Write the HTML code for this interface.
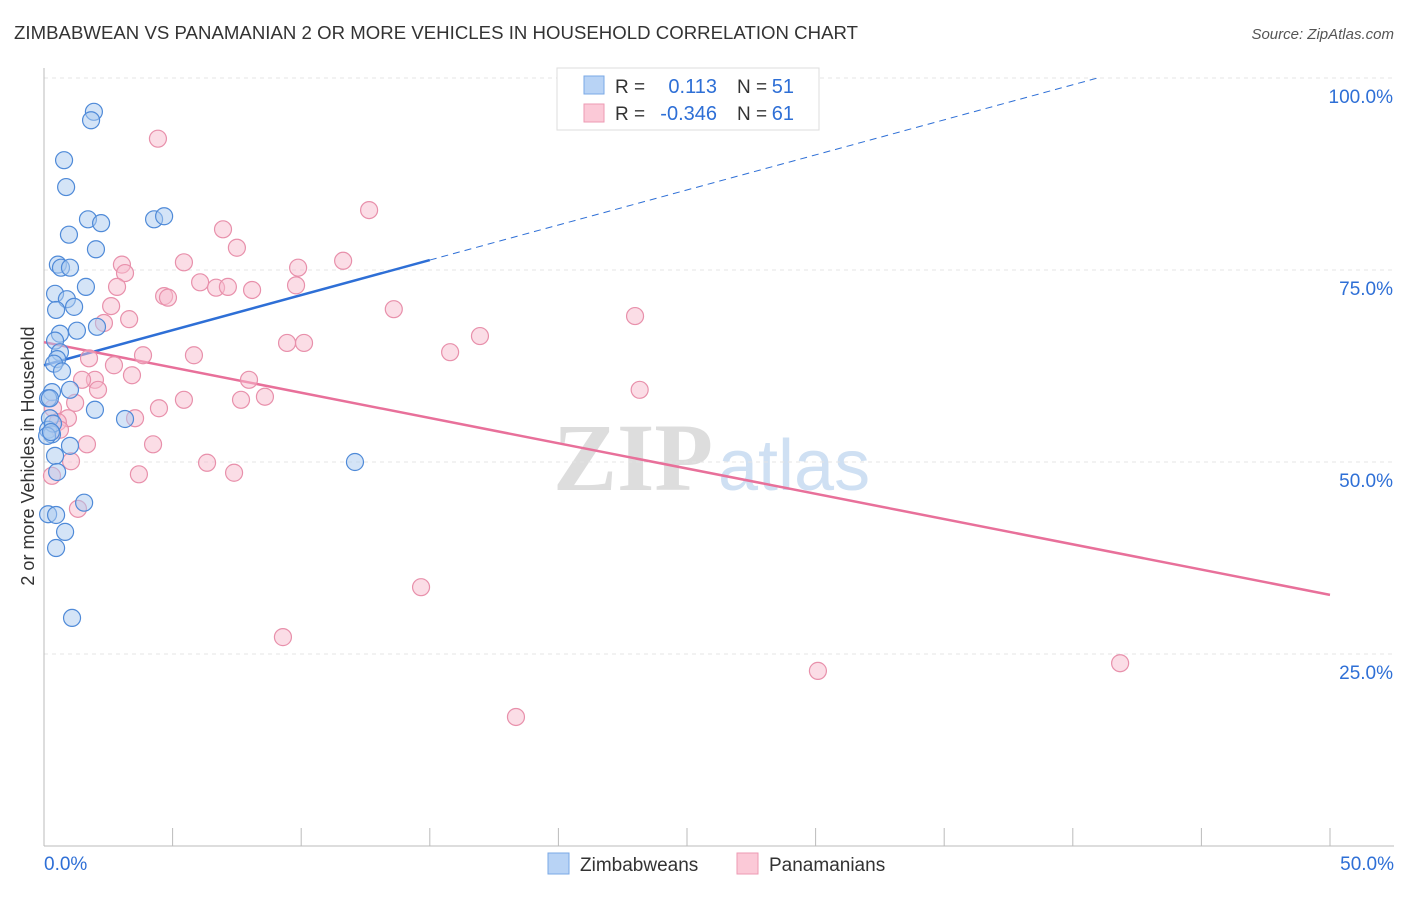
<!DOCTYPE html>
<html><head><meta charset="utf-8"><style>
body{margin:0;background:#fff;font-family:"Liberation Sans",sans-serif}
</style></head><body>
<svg id="chart" width="1406" height="892" xmlns="http://www.w3.org/2000/svg" font-family="Liberation Sans, sans-serif">
<text x="14" y="39" font-size="18.6" fill="#333" textLength="844">ZIMBABWEAN VS PANAMANIAN 2 OR MORE VEHICLES IN HOUSEHOLD CORRELATION CHART</text>
<text x="1394" y="39" font-size="15" fill="#555" text-anchor="end" font-style="italic">Source: ZipAtlas.com</text>
<g><text x="553" y="490" font-size="96" fill="#ddd" font-family="Liberation Serif, serif" font-weight="bold">ZIP</text><text x="718" y="490" font-size="72" fill="#cfe0f3">atlas</text></g>
<text transform="translate(34,456) rotate(-90)" font-size="18" fill="#333" text-anchor="middle">2 or more Vehicles in Household</text>
<g id="grid"></g><g id="axes"></g><g id="trend"></g><g id="pts"></g>
<g>
<rect x="557" y="68" width="262" height="62" fill="#fff" stroke="#ddd"/>
<rect x="584" y="76" width="20" height="18" fill="#b8d3f5" stroke="#7aa8e6"/>
<rect x="584" y="104" width="20" height="18" fill="#fbc9d7" stroke="#ee9ab3"/>
<text x="615" y="93" font-size="19" fill="#333">R =</text>
<text x="717" y="93" font-size="20" fill="#2e6fd6" text-anchor="end">0.113</text>
<text x="737" y="93" font-size="19" fill="#333">N =</text>
<text x="794" y="93" font-size="20" fill="#2e6fd6" text-anchor="end">51</text>
<text x="615" y="120" font-size="19" fill="#333">R =</text>
<text x="717" y="120" font-size="20" fill="#2e6fd6" text-anchor="end">-0.346</text>
<text x="737" y="120" font-size="19" fill="#333">N =</text>
<text x="794" y="120" font-size="20" fill="#2e6fd6" text-anchor="end">61</text>
</g>
<g>
<rect x="548" y="853" width="21" height="21" fill="#b8d3f5" stroke="#7aa8e6"/>
<text x="580" y="871" font-size="19" fill="#333">Zimbabweans</text>
<rect x="737" y="853" width="21" height="21" fill="#fbc9d7" stroke="#ee9ab3"/>
<text x="769" y="871" font-size="19" fill="#333">Panamanians</text>
</g>
</svg>
<script>
const xTicks=[0,5,10,15,20,25,30,35,40,45,50];
const yTicks=[25,50,75,100];
const yTickLabels=["25.0%","50.0%","75.0%","100.0%"];
const xEndLabels=["0.0%","50.0%"];
const blueX=[1.94,1.83,0.78,0.86,1.71,2.22,4.28,4.67,0.97,2.02,0.54,0.66,1.01,0.43,1.63,0.89,1.17,0.47,2.06,1.28,0.62,0.43,0.62,0.51,0.39,0.70,1.01,0.31,0.16,1.98,3.15,0.23,0.16,0.31,1.01,0.43,12.09,0.51,1.56,0.16,0.47,0.82,0.47,1.09,0.23,0.35,0.12,0.27];
const blueY=[95.6,94.5,89.3,85.8,81.6,81.1,81.6,82.0,79.6,77.7,75.7,75.3,75.3,71.9,72.8,71.2,70.2,69.8,67.6,67.1,66.7,65.8,64.3,63.4,62.8,61.8,59.4,59.1,58.3,56.8,55.6,55.7,54.2,53.6,52.1,50.8,50.0,48.7,44.7,43.2,43.1,40.9,38.8,29.7,58.3,55.0,53.4,53.9];
const pinkX=[4.43,12.64,6.96,7.50,3.03,3.15,5.44,9.88,11.63,2.84,6.07,6.69,7.15,8.09,9.80,4.67,4.82,13.60,22.98,2.61,3.31,2.33,16.95,9.45,10.11,15.79,3.85,5.83,1.75,2.72,3.42,1.98,7.97,1.48,2.10,23.16,5.44,7.66,8.59,1.21,4.47,0.35,0.93,3.54,0.54,4.24,1.67,1.05,6.34,3.69,7.39,0.31,1.32,14.66,9.29,30.09,41.84,18.35,0.62];
const pinkY=[92.1,82.8,80.3,77.9,75.7,74.6,76.0,75.3,76.2,72.8,73.4,72.7,72.8,72.4,73.0,71.6,71.4,69.9,69.0,70.3,68.6,68.1,66.4,65.5,65.5,64.3,63.9,63.9,63.5,62.6,61.3,60.7,60.7,60.7,59.4,59.4,58.1,58.1,58.5,57.7,57.0,57.0,55.7,55.7,55.2,52.3,52.3,50.1,49.9,48.4,48.6,48.2,43.9,33.7,27.2,22.8,23.8,16.8,54.2];
const blueTrend=[62.6,0.913];const pinkTrend=[65.6,-0.658];
const X=v=>44+v*(1286/50), Y=v=>846-v*7.68;
const NS="http://www.w3.org/2000/svg";
function mk(t,a,p){const e=document.createElementNS(NS,t);for(const k in a)e.setAttribute(k,a[k]);p.appendChild(e);return e;}
const grid=document.getElementById('grid'),axes=document.getElementById('axes'),tr=document.getElementById('trend'),pts=document.getElementById('pts');
yTicks.forEach((t,i)=>{const l=mk('line',{x1:44,x2:1394,y1:Y(t),y2:Y(t),stroke:'#e4e4e4','stroke-dasharray':'4,4'},grid);


const tx=mk('text',{x:1393,y:Y(t)+25,'font-size':19,fill:'#2e6fd6','text-anchor':'end'},axes);tx.textContent=yTickLabels[i];

});
mk('line',{x1:44,x2:1394,y1:846,y2:846,stroke:'#bbb'},axes);
mk('line',{x1:44,x2:44,y1:68,y2:846,stroke:'#bbb'},axes);
xTicks.forEach(t=>{const l=mk('line',{x1:X(t),x2:X(t),y1:828,y2:846,stroke:'#bbb'},axes);

});
const a=mk('text',{x:44,y:870,'font-size':19,fill:'#2e6fd6'},axes);a.textContent=xEndLabels[0];


const b=mk('text',{x:1394,y:870,'font-size':19,fill:'#2e6fd6','text-anchor':'end'},axes);b.textContent=xEndLabels[1];


function dot(x,y,f,s){const c=mk('circle',{cx:X(x),cy:Y(y),r:8.5,fill:f,stroke:s,'stroke-width':1.2,'fill-opacity':0.5},pts);return c;}
pinkX.forEach((x,i)=>{const c=dot(x,pinkY[i],'#f8bccd','#e890ab');

});
blueX.forEach((x,i)=>{const c=dot(x,blueY[i],'#a9c9f0','#4f8ad8');

});
const bEnd=15,bDash=(100-blueTrend[0])/blueTrend[1];
const l1=mk('line',{x1:X(0),y1:Y(blueTrend[0]),x2:X(bEnd),y2:Y(blueTrend[0]+blueTrend[1]*bEnd),stroke:'#2e6fd6','stroke-width':2.5},tr);


const l2=mk('line',{x1:X(bEnd),y1:Y(blueTrend[0]+blueTrend[1]*bEnd),x2:X(bDash),y2:Y(100),stroke:'#2e6fd6','stroke-width':1,'stroke-dasharray':'7,5'},tr);


const l3=mk('line',{x1:X(0),y1:Y(pinkTrend[0]),x2:X(50),y2:Y(pinkTrend[0]+pinkTrend[1]*50),stroke:'#e8709a','stroke-width':2.5},tr);


</script>
</body></html>
